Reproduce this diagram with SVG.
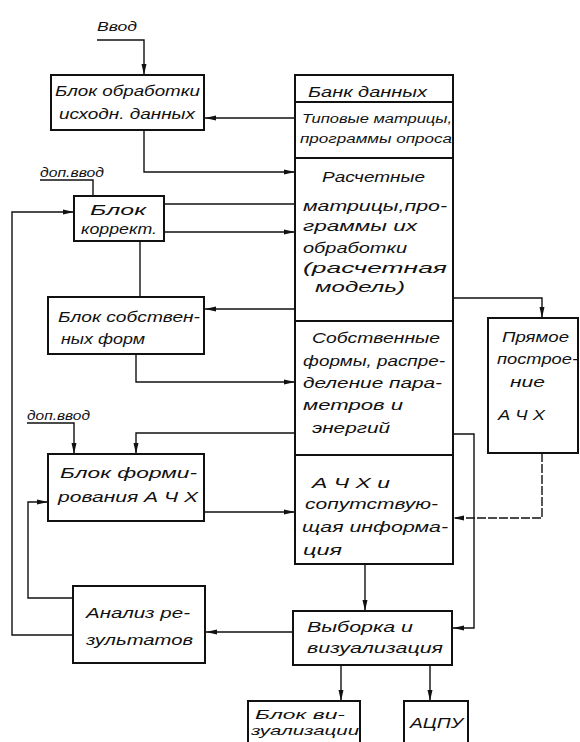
<svg xmlns="http://www.w3.org/2000/svg" width="580" height="742" viewBox="0 0 580 742">
<style>
.box{fill:#fff;stroke:#111;stroke-width:2}
.t{font-family:"Liberation Sans","DejaVu Sans",sans-serif;font-style:italic;font-size:15px;fill:#111}
.s{font-family:"Liberation Sans","DejaVu Sans",sans-serif;font-style:italic;font-size:12px;fill:#111}
.v{font-family:"Liberation Sans","DejaVu Sans",sans-serif;font-style:italic;font-size:13px;fill:#111}
.c{fill:none;stroke:#111;stroke-width:1.4}
.d{stroke-dasharray:9 2}
</style>
<defs>
<marker id="a" markerUnits="userSpaceOnUse" markerWidth="12" markerHeight="6" refX="11" refY="3" orient="auto">
<path d="M0,0.5 L11,3 L0,5.5 z" fill="#111"/>
</marker>
</defs>
<rect width="580" height="742" fill="#fff"/>
<g id="connectors">
<polyline class="c" points="97,40 144,40 144,75" marker-end="url(#a)"/>
<polyline class="c" points="295,118 205,118" marker-end="url(#a)"/>
<polyline class="c" points="144,130 144,172 295,172" marker-end="url(#a)"/>
<polyline class="c" points="40,180 93,180 93,196"/>
<polyline class="c" points="164,204 295,204"/>
<polyline class="c" points="164,232 295,232" marker-end="url(#a)"/>
<polyline class="c" points="140,241 140,297"/>
<polyline class="c" points="295,309 205,309" marker-end="url(#a)"/>
<polyline class="c" points="136,354 136,382 295,382" marker-end="url(#a)"/>
<polyline class="c" points="27,423 74,423 74,454" marker-end="url(#a)"/>
<polyline class="c" points="295,433 136,433 136,454" marker-end="url(#a)"/>
<polyline class="c" points="204,512 295,512" marker-end="url(#a)"/>
<polyline class="c" points="73,598 28,598 28,502 48,502" marker-end="url(#a)"/>
<polyline class="c" points="73,635 12,635 12,212 74,212" marker-end="url(#a)"/>
<polyline class="c" points="293,632 206,632" marker-end="url(#a)"/>
<polyline class="c" points="453,298 542,298 542,318" marker-end="url(#a)"/>
<polyline class="c d" points="542,453 542,518 453,518" marker-end="url(#a)"/>
<polyline class="c" points="453,434 474,434 474,628 453,628" marker-end="url(#a)"/>
<polyline class="c" points="365,564 365,611" marker-end="url(#a)"/>
<polyline class="c" points="341,665 341,701" marker-end="url(#a)"/>
<polyline class="c" points="430,665 430,701" marker-end="url(#a)"/>
</g>
<g id="vvod">
<text class="v" x="97" y="31" textLength="40" lengthAdjust="spacingAndGlyphs">Ввод</text>
</g>
<g id="dop1">
<text class="v" x="40" y="177" textLength="64" lengthAdjust="spacingAndGlyphs">доп.ввод</text>
</g>
<g id="dop2">
<text class="v" x="27" y="420" textLength="63" lengthAdjust="spacingAndGlyphs">доп.ввод</text>
</g>
<g id="blok-obrabotki">
<rect class="box" x="51" y="75" width="153" height="55"/>
<text class="t" x="55" y="96" textLength="145" lengthAdjust="spacingAndGlyphs">Блок обработки</text>
<text class="t" x="59" y="119" textLength="136" lengthAdjust="spacingAndGlyphs">исходн. данных</text>
</g>
<g id="blok-korrekt">
<rect class="box" x="74" y="196" width="90" height="45"/>
<text class="t" x="90" y="215" textLength="56" lengthAdjust="spacingAndGlyphs">Блок</text>
<text class="t" x="81" y="234" textLength="76" lengthAdjust="spacingAndGlyphs">коррект.</text>
</g>
<g id="blok-sobstv">
<rect class="box" x="48" y="297" width="156" height="57"/>
<text class="t" x="58" y="322" textLength="142" lengthAdjust="spacingAndGlyphs">Блок собствен-</text>
<text class="t" x="61" y="344" textLength="84" lengthAdjust="spacingAndGlyphs">ных   форм</text>
</g>
<g id="blok-form">
<rect class="box" x="48" y="454" width="156" height="67"/>
<text class="t" x="60" y="478" textLength="137" lengthAdjust="spacingAndGlyphs">Блок  форми-</text>
<text class="t" x="58" y="502" textLength="140" lengthAdjust="spacingAndGlyphs">рования А Ч Х</text>
</g>
<g id="analiz">
<rect class="box" x="73" y="586" width="132" height="77"/>
<text class="t" x="86" y="618" textLength="104" lengthAdjust="spacingAndGlyphs">Анализ ре-</text>
<text class="t" x="86" y="645" textLength="107" lengthAdjust="spacingAndGlyphs">зультатов</text>
</g>
<g id="bank">
<rect class="box" x="295" y="75" width="158" height="27"/>
<text class="t" x="308" y="97" textLength="119" lengthAdjust="spacingAndGlyphs">Банк данных</text>
</g>
<g id="tipovye">
<rect class="box" x="295" y="102" width="158" height="56"/>
<text class="s" x="302" y="123" textLength="150" lengthAdjust="spacingAndGlyphs">Типовые матрицы,</text>
<text class="s" x="300" y="143" textLength="152" lengthAdjust="spacingAndGlyphs">программы опроса</text>
</g>
<g id="raschetnye">
<rect class="box" x="295" y="158" width="158" height="163"/>
<text class="t" x="322" y="182" textLength="103" lengthAdjust="spacingAndGlyphs">Расчетные</text>
<text class="t" x="303" y="211" textLength="144" lengthAdjust="spacingAndGlyphs">матрицы,про-</text>
<text class="t" x="303" y="231" textLength="114" lengthAdjust="spacingAndGlyphs">граммы   их</text>
<text class="t" x="303" y="253" textLength="104" lengthAdjust="spacingAndGlyphs">обработки</text>
<text class="t" x="303" y="273" textLength="144" lengthAdjust="spacingAndGlyphs">(расчетная</text>
<text class="t" x="315" y="292" textLength="90" lengthAdjust="spacingAndGlyphs">модель)</text>
</g>
<g id="sobstvennye">
<rect class="box" x="295" y="321" width="158" height="134"/>
<text class="t" x="312" y="343" textLength="128" lengthAdjust="spacingAndGlyphs">Собственные</text>
<text class="t" x="303" y="366" textLength="142" lengthAdjust="spacingAndGlyphs">формы, распре-</text>
<text class="t" x="303" y="388" textLength="139" lengthAdjust="spacingAndGlyphs">деление пара-</text>
<text class="t" x="303" y="410" textLength="100" lengthAdjust="spacingAndGlyphs">метров  и</text>
<text class="t" x="312" y="433" textLength="78" lengthAdjust="spacingAndGlyphs">энергий</text>
</g>
<g id="achh-info">
<rect class="box" x="295" y="455" width="158" height="109"/>
<text class="t" x="312" y="488" textLength="78" lengthAdjust="spacingAndGlyphs">А Ч Х   и</text>
<text class="t" x="305" y="509" textLength="133" lengthAdjust="spacingAndGlyphs">сопутствую-</text>
<text class="t" x="302" y="532" textLength="146" lengthAdjust="spacingAndGlyphs">щая  информа-</text>
<text class="t" x="303" y="555" textLength="39" lengthAdjust="spacingAndGlyphs">ция</text>
</g>
<g id="pryamoe">
<rect class="box" x="488" y="318" width="90" height="135"/>
<text class="t" x="502" y="342" textLength="67" lengthAdjust="spacingAndGlyphs">Прямое</text>
<text class="t" x="497" y="364" textLength="81" lengthAdjust="spacingAndGlyphs">построе-</text>
<text class="t" x="510" y="387" textLength="35" lengthAdjust="spacingAndGlyphs">ние</text>
<text class="t" x="498" y="420" textLength="47" lengthAdjust="spacingAndGlyphs">А Ч Х</text>
</g>
<g id="vyborka">
<rect class="box" x="293" y="611" width="159" height="54"/>
<text class="t" x="307" y="632" textLength="106" lengthAdjust="spacingAndGlyphs">Выборка  и</text>
<text class="t" x="307" y="653" textLength="136" lengthAdjust="spacingAndGlyphs">визуализация</text>
</g>
<g id="blok-vizual">
<rect class="box" x="248" y="701" width="112" height="50"/>
<text class="v" x="255" y="719" textLength="90" lengthAdjust="spacingAndGlyphs">Блок ви-</text>
<text class="v" x="251" y="735" textLength="108" lengthAdjust="spacingAndGlyphs">зуализации</text>
</g>
<g id="acpu">
<rect class="box" x="404" y="701" width="64" height="50"/>
<text class="t" x="410" y="728" textLength="53" lengthAdjust="spacingAndGlyphs">АЦПУ</text>
</g>
</svg>
